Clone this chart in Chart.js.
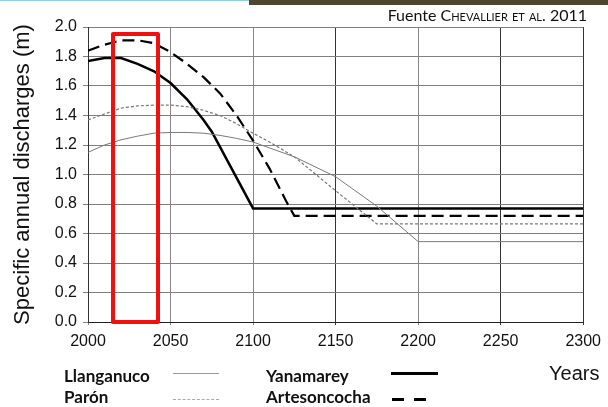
<!DOCTYPE html>
<html>
<head>
<meta charset="utf-8">
<script src="https://cdn.jsdelivr.net/npm/chart.js@4"></script>
<style>
  body { margin: 0; background: #fff; }
  #wrap { position: relative; width: 608px; height: 407px; overflow: hidden; }
  #chart { position: absolute; left: 0; top: 0; }
  .bar-blue { position: absolute; left: 0; top: 0; width: 249px; height: 1px; background: #94cddf; }
  .bar-dark { position: absolute; left: 249px; top: 0; width: 359px; height: 5px; background: #4f4630; }
  .src { position: absolute; right: 21px; top: 5px; font: 16px Lato, sans-serif; color: #111; white-space: nowrap; }
  .src span { font-variant: small-caps; }
  .lg { position: absolute; font: bold 17px Lato, sans-serif; color: #111; white-space: nowrap; line-height: 20px; }
  .ln { position: absolute; }
  .years { position: absolute; left: 549px; top: 362px; font: 20px "Liberation Sans", Arial, sans-serif; color: #111; }
  .mark { position: absolute; left: 111px; top: 32px; width: 41px; height: 284px; border: 4.5px solid #f01010; border-radius: 2px; }
</style>
</head>
<body>
<div id="wrap">
  <canvas id="chart" width="608" height="407"></canvas>
  <div class="bar-blue"></div>
  <div class="bar-dark"></div>
  <div class="src">Fuente <span>Chevallier et al.</span> 2011</div>
  <div class="mark"></div>

  <div class="lg" style="left:64px; top:366px;">Llanganuco</div>
  <div class="ln" style="left:173px; top:373px; width:46px; border-top:1.5px solid #999;"></div>
  <div class="lg" style="left:64px; top:387px;">Parón</div>
  <div class="ln" style="left:173px; top:399px; width:46px; border-top:1.5px dashed #aaa;"></div>

  <div class="lg" style="left:266px; top:366px;">Yanamarey</div>
  <div class="ln" style="left:391px; top:372px; width:47px; height:3px; background:#000;"></div>
  <div class="lg" style="left:266px; top:387px;">Artesoncocha</div>
  <div class="ln" style="left:392px; top:398px; width:12px; height:3px; background:#000;"></div>
  <div class="ln" style="left:414px; top:398px; width:12px; height:3px; background:#000;"></div>

  <div class="years">Years</div>
</div>
<script>
const llanganucoYears = [2000, 2010, 2020, 2030, 2040, 2050, 2060, 2070, 2080, 2090, 2100, 2110, 2125, 2150, 2175, 2200, 2300];
const llanganucoVals  = [1.15, 1.20, 1.235, 1.26, 1.28, 1.285, 1.285, 1.28, 1.265, 1.245, 1.22, 1.18, 1.12, 0.985, 0.785, 0.545, 0.545];

const paronYears = [2000, 2010, 2020, 2030, 2040, 2050, 2060, 2070, 2080, 2090, 2100, 2110, 2125, 2150, 2175, 2300];
const paronVals  = [1.37, 1.41, 1.45, 1.465, 1.47, 1.47, 1.46, 1.435, 1.40, 1.345, 1.28, 1.22, 1.12, 0.89, 0.665, 0.665];

const yanamareyYears = [2000, 2010, 2020, 2030, 2040, 2050, 2060, 2070, 2075, 2100, 2300];
const yanamareyVals  = [1.77, 1.79, 1.79, 1.75, 1.70, 1.62, 1.51, 1.37, 1.29, 0.77, 0.77];

const artesonYears = [2000, 2010, 2020, 2030, 2040, 2050, 2060, 2070, 2080, 2090, 2100, 2110, 2120, 2125, 2300];
const artesonVals  = [1.84, 1.88, 1.91, 1.91, 1.89, 1.83, 1.75, 1.66, 1.55, 1.40, 1.23, 1.04, 0.82, 0.72, 0.72];

const xTicks = [2000, 2050, 2100, 2150, 2200, 2250, 2300];
const yTicks = ['0.0', '0.2', '0.4', '0.6', '0.8', '1.0', '1.2', '1.4', '1.6', '1.8', '2.0'];

function pts(xs, ys) {
    return xs.map((x, i) => ({ x: x, y: ys[i] }));
}

const tickFont = { family: '"Liberation Sans", Arial, sans-serif', size: 16 };

const ctx = document.getElementById('chart').getContext('2d');

new Chart(ctx, {
    type: 'line',
    data: {
        datasets: [
            { label: 'Llanganuco', data: pts(llanganucoYears, llanganucoVals), borderColor: '#7a7a7a', borderWidth: 1 },
            { label: 'Parón', data: pts(paronYears, paronVals), borderColor: '#777', borderWidth: 1.2, borderDash: [3, 2] },
            { label: 'Yanamarey', data: pts(yanamareyYears, yanamareyVals), borderColor: '#000', borderWidth: 2.5 },
            { label: 'Artesoncocha', data: pts(artesonYears, artesonVals), borderColor: '#000', borderWidth: 2.2, borderDash: [12, 6] }
        ]
    },
    options: {
        responsive: false,
        animation: false,
        layout: { padding: { top: 27, right: 20, left: 0, bottom: 0 } },
        elements: { point: { radius: 0 }, line: { tension: 0, fill: false } },
        plugins: { legend: { display: false }, tooltip: { enabled: false } },
        scales: {
            x: {
                type: 'linear',
                min: 2000,
                max: 2300,
                afterFit: (s) => { s.height = 85; },
                afterBuildTicks: (s) => { s.ticks = xTicks.map(v => ({ value: v })); },
                ticks: { font: tickFont, color: '#111', padding: 7, callback: (v) => String(v), maxRotation: 0 },
                grid: {
                    tickLength: 3,
                    color: (c) => ([2150, 2250, 2300].includes(c.tick && c.tick.value) ? '#333' : '#888')
                },
                border: { color: '#222', width: 1 }
            },
            y: {
                min: 0,
                max: 2,
                afterFit: (s) => { s.width = 88; },
                afterBuildTicks: (s) => { s.ticks = yTicks.map(v => ({ value: parseFloat(v) })); },
                ticks: { font: tickFont, color: '#111', padding: 6, callback: (v) => v.toFixed(1) },
                grid: { tickLength: 5, color: '#808080' },
                border: { color: '#333', width: 1 },
                title: {
                    display: true,
                    text: 'Specific annual discharges (m)',
                    font: { family: '"Liberation Sans", Arial, sans-serif', size: 22 },
                    color: '#111',
                    padding: { top: 10, bottom: 0 }
                }
            }
        }
    }
});
</script>
</body>
</html>
